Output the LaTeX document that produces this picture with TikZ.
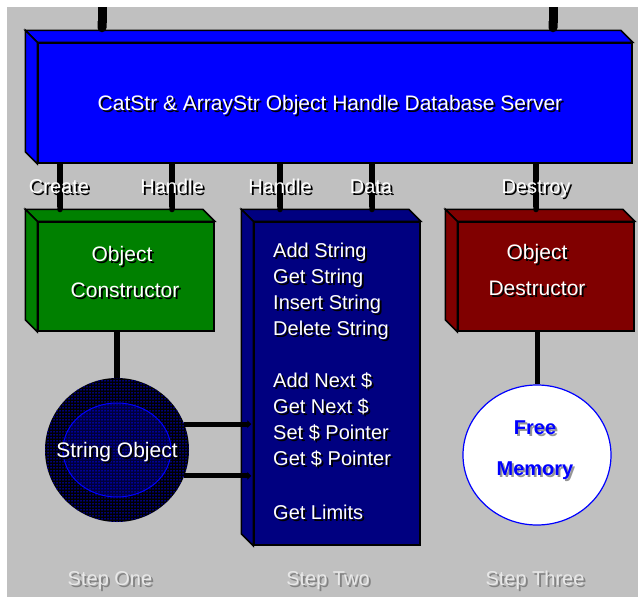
\documentclass[tikz,border=0pt]{standalone}
\usepackage{fontspec}
\setmainfont{Liberation Sans}
\usetikzlibrary{calc,patterns,shapes.geometric,arrows.meta}

\definecolor{panel}{RGB}{192,192,192}
\definecolor{srvblue}{RGB}{0,0,255}
\definecolor{ctorgreen}{RGB}{0,128,0}
\definecolor{navy}{RGB}{0,0,128}
\definecolor{maroon}{RGB}{128,0,0}
\definecolor{stepfg}{RGB}{232,232,232}
\definecolor{stepsh}{RGB}{130,130,130}
\definecolor{memsh}{RGB}{150,150,150}

% dotted fills for the string object
\pgfdeclarepatternformonly{sparsedots}{\pgfqpoint{-1pt}{-1pt}}{\pgfqpoint{1pt}{1pt}}{\pgfqpoint{3pt}{3pt}}%
  {\pgfpathcircle{\pgfqpoint{0pt}{0pt}}{0.75pt}\pgfusepath{fill}}
\pgfdeclarepatternformonly{densedots}{\pgfqpoint{-1pt}{-1pt}}{\pgfqpoint{1pt}{1pt}}{\pgfqpoint{2pt}{2pt}}%
  {\pgfpathcircle{\pgfqpoint{0pt}{0pt}}{0.6pt}\pgfusepath{fill}}

% text with a drop shadow: #1 text colour, #2 shadow colour
\newcommand{\shadowed}[3]{\rlap{\kern2pt\raisebox{-2pt}{\color{#2}#3}}{\color{#1}#3}}

% top and left faces behind a box front #1, filled with #2
\newcommand{\slabfaces}[2]{%
  \filldraw[fill=#2, line width=1.5pt]
    (#1.north west) -- ++(-12,-12) -- ($(#1.north east)+(-12,-12)$) -- (#1.north east) -- cycle;
  \filldraw[fill=#2, line width=1.5pt]
    (#1.north west) -- ++(-12,-12) -- ($(#1.south west)+(-12,-12)$) -- (#1.south west) -- cycle;
}

\begin{document}
\begin{tikzpicture}[x=1pt, y=-1pt,
    every node/.style={font=\fontsize{20}{24}\selectfont, inner sep=0pt},
    slab/.style={draw, line width=1.5pt, rectangle, minimum width=#1},
    wire/.style={line width=5.5pt, -{Round Cap}},
    feed/.style={line width=9pt, -{Round Cap}},
    link/.style={line width=5pt, -{Triangle[length=4pt,width=8pt]}, shorten >=2pt},
    tag/.style={anchor=base},
    steplabel/.style={anchor=base}]

  \useasboundingbox (0,0) rectangle (638,600);
  \fill[white] (0,0) rectangle (638,600);
  \fill[panel] (7,7) rectangle (638,597);

  % the four boxes
  \node[slab=594, minimum height=120, fill=srvblue] (server) at (335,103) {};
  \slabfaces{server}{srvblue}
  \node[slab=176, minimum height=109, fill=ctorgreen] (ctor) at (126,276.5) {};
  \slabfaces{ctor}{ctorgreen}
  \node[slab=166, minimum height=323, fill=navy] (methods) at (337,383.5) {};
  \slabfaces{methods}{navy}
  \node[slab=176, minimum height=109, fill=maroon] (dtor) at (546,276.5) {};
  \slabfaces{dtor}{maroon}

  % round objects
  \node[circle, minimum size=144, fill=black,
        postaction={pattern=sparsedots, pattern color=srvblue}] (strobj) at (117,450) {};
  \draw[srvblue, line width=1pt, pattern=densedots, pattern color=srvblue]
    (strobj.center) ellipse [x radius=54, y radius=47];
  \node[ellipse, minimum width=148, minimum height=140, fill=white,
        draw=srvblue, line width=1.2pt] (freemem) at (537,455) {};

  % feeds into the server
  \coordinate (feedA) at (102,7);
  \coordinate (feedB) at (553,7);
  \draw[feed] (feedA) -- ($(feedA |- server.north)+(0,-10)$);
  \draw[feed] (feedB) -- ($(feedB |- server.north)+(0,-10)$);

  % server to the step boxes
  \coordinate (ctortop) at ($(ctor.north)+(0,-9)$);
  \coordinate (methtop) at ($(methods.north)+(0,-9)$);
  \coordinate (dtortop) at ($(dtor.north)+(0,-9)$);
  \draw[wire] (60,0 |- server.south) -- (60,0 |- ctortop);
  \draw[wire] (172,0 |- server.south) -- (172,0 |- ctortop);
  \draw[wire] (280,0 |- server.south) -- (280,0 |- methtop);
  \draw[wire] (372,0 |- server.south) -- (372,0 |- methtop);
  \draw[wire] (536,0 |- server.south) -- (536,0 |- dtortop);

  % down to the objects
  \draw[line width=6pt] (strobj.north |- ctor.south) -- (strobj.north);
  \draw[line width=5pt] (freemem.north |- dtor.south) -- (freemem.north);
  \draw[link] (strobj.21) -- (strobj.21 -| methods.west);
  \draw[link] (strobj.-21) -- (strobj.-21 -| methods.west);

  % labels
  \node[anchor=base] (srvtitle) at (330,110)
    {\fontsize{21}{25}\selectfont\shadowed{white}{black}{CatStr \& ArrayStr Object Handle Database Server}};
  \node[tag] (create) at (59,193) {\shadowed{white}{black}{Create}};
  \node[tag] (handleA) at (172,193) {\shadowed{white}{black}{Handle}};
  \node[tag] (handleB) at (280,193) {\shadowed{white}{black}{Handle}};
  \node[tag] (data) at (371,193) {\shadowed{white}{black}{Data}};
  \node[tag] (destroy) at (536,193) {\shadowed{white}{black}{Destroy}};

  \node[anchor=base] (ctorA) at (122,261) {\fontsize{21}{25}\selectfont\shadowed{white}{black}{Object}};
  \node[anchor=base] (ctorB) at (125,297) {\fontsize{21}{25}\selectfont\shadowed{white}{black}{Constructor}};
  \node[anchor=base] (dtorA) at (537,259) {\fontsize{21}{25}\selectfont\shadowed{white}{black}{Object}};
  \node[anchor=base] (dtorB) at (537,295) {\fontsize{21}{25}\selectfont\shadowed{white}{black}{Destructor}};

  \foreach \y/\t in {250/Add String, 276/Get String, 302/Insert String, 328/Delete String,
                     380/Add Next \$, 406/Get Next \$, 432/Set \$ Pointer, 458/Get \$ Pointer,
                     512/Get Limits}
    \node[anchor=base west] (op\y) at (273,\y+7) {\shadowed{white}{black}{\t}};

  \node[anchor=base] (strobjtext) at (117,457) {\fontsize{21}{25}\selectfont\shadowed{white}{black}{String Object}};
  \node[anchor=base] (freeA) at (535,434) {\bfseries\shadowed{srvblue}{memsh}{Free}};
  \node[anchor=base] (freeB) at (535,475) {\bfseries\shadowed{srvblue}{memsh}{Memory}};

  \node[steplabel] (stepone) at (110,585) {\shadowed{stepfg}{stepsh}{Step One}};
  \node[steplabel] (steptwo) at (328,585) {\shadowed{stepfg}{stepsh}{Step Two}};
  \node[steplabel] (stepthree) at (535,585) {\shadowed{stepfg}{stepsh}{Step Three}};
\end{tikzpicture}
\end{document}
